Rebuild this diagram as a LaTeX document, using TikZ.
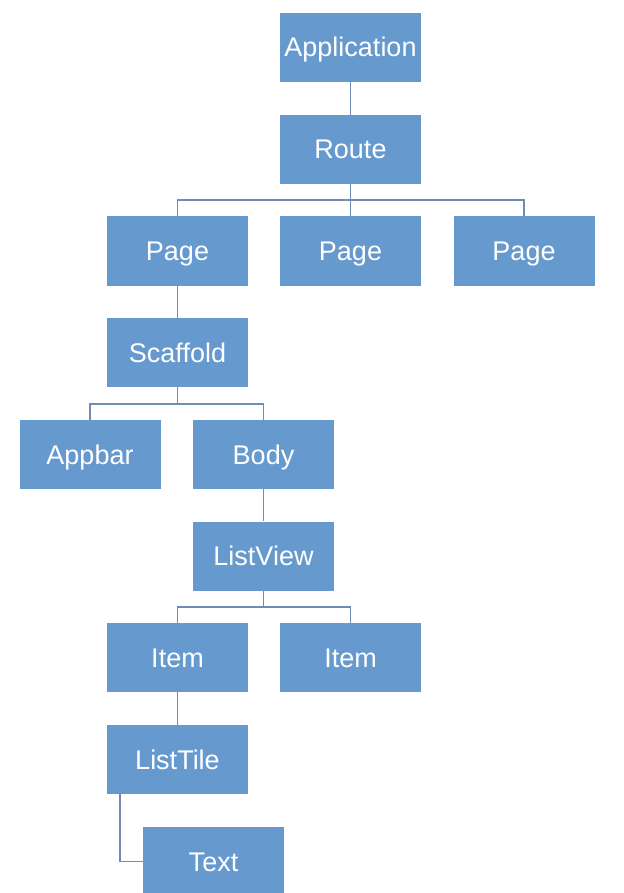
\documentclass[tikz,border=0pt]{standalone}
\usepackage{fontspec}
\setmainfont{Liberation Sans}
\begin{document}
\begin{tikzpicture}[x=1pt,y=-1pt,
  box/.style={rectangle,fill=boxblue,minimum width=141pt,minimum height=69pt,inner sep=0pt,text=white,text height=22pt,text depth=3pt,font=\fontsize{27}{32}\selectfont},
  conn/.style={draw=lineblue,line width=1.1pt}]
\definecolor{boxblue}{RGB}{102,153,206}
\definecolor{lineblue}{RGB}{110,140,180}
\useasboundingbox[fill=white] (0,0) rectangle (623,893);
\node[box] (app) at (350.5,47.5) {Application};
\node[box] (route) at (350.5,149.5) {Route};
\node[box] (p1) at (177.5,251) {Page};
\node[box] (p2) at (350.5,251) {Page};
\node[box] (p3) at (524,251) {Page};
\node[box] (sc) at (177.5,352.5) {Scaffold};
\node[box] (ab) at (90,454.5) {Appbar};
\node[box] (body) at (263.5,454.5) {Body};
\node[box] (lv) at (263.5,556) {ListView};
\node[box] (i1) at (177.5,657.5) {Item};
\node[box] (i2) at (350.5,657.5) {Item};
\node[box] (lt) at (177.5,759.5) {ListTile};
\node[box] (tx) at (213.5,861.5) {Text};
\coordinate (b1) at (0,200);
\coordinate (b2) at (0,404);
\coordinate (b3) at (0,607);
\draw[conn] (app.south) -- (route.north);
\draw[conn] (route.south) -- (p2.north);
\draw[conn] (route.south |- b1) -| (p1.north);
\draw[conn] (route.south |- b1) -| (p3.north);
\draw[conn] (p1.south) -- (sc.north);
\draw[conn] (sc.south) -- (sc.south |- b2);
\draw[conn] (sc.south |- b2) -| (ab.north);
\draw[conn] (sc.south |- b2) -| (body.north);
\draw[conn] (body.south) -- (lv.north);
\draw[conn] (lv.south) -- (lv.south |- b3);
\draw[conn] (lv.south |- b3) -| (i1.north);
\draw[conn] (lv.south |- b3) -| (i2.north);
\draw[conn] (i1.south) -- (lt.north);
\draw[conn] ([xshift=-57.5pt]lt.south) |- (tx.west);
\end{tikzpicture}
\end{document}
